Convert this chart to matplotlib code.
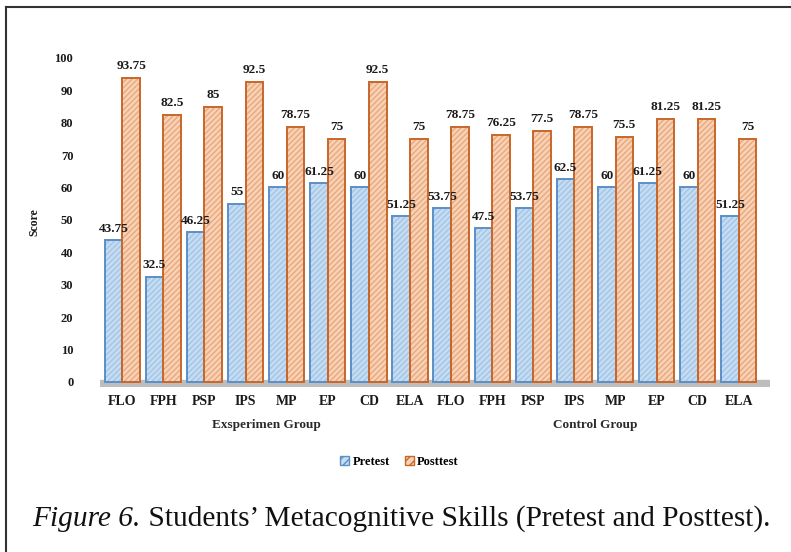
import numpy as np
import matplotlib.pyplot as plt
from matplotlib.patches import Rectangle
from matplotlib.lines import Line2D

# Data
skills = ["FLO", "FPH", "PSP", "IPS", "MP", "EP", "CD", "ELA"]
groups = ["Exsperimen Group", "Control Group"]
exp_pre = [43.75, 32.5, 46.25, 55, 60, 61.25, 60, 51.25]
exp_post = [93.75, 82.5, 85, 92.5, 78.75, 75, 92.5, 75]
ctl_pre = [53.75, 47.5, 53.75, 62.5, 60, 61.25, 60, 51.25]
ctl_post = [78.75, 76.25, 77.5, 78.75, 75.5, 81.25, 81.25, 75]

labels = skills + skills
pretest = exp_pre + ctl_pre
posttest = exp_post + ctl_post

plt.rcParams['font.family'] = ['Liberation Serif', 'DejaVu Serif']

fig = plt.figure(figsize=(7.91, 5.52), dpi=100)
ax = fig.add_axes([0.126, 0.299, 0.847, 0.596])

x = np.arange(len(labels))
w = 0.43
off = 0.215
pre_fill, pre_hatch, pre_edge = "#c5dcf2", "#a3c5e6", "#5b8fc7"
post_fill, post_hatch, post_edge = "#f9d2b5", "#e8a880", "#c8672a"
txt = "#1a1a1a"

# floor of the pseudo 3D chart
ax.axhspan(-1.6, 0.4, color="#bdbdbd", zorder=1)

# fills with hatch, then outlines
ax.bar(x - off, pretest, w, color=pre_fill, edgecolor=pre_hatch,
       hatch="//////", linewidth=0, zorder=2)
ax.bar(x - off, pretest, w, fill=False, edgecolor=pre_edge, linewidth=1.4, zorder=3)
ax.bar(x + off, posttest, w, color=post_fill, edgecolor=post_hatch,
       hatch="//////", linewidth=0, zorder=2)
ax.bar(x + off, posttest, w, fill=False, edgecolor=post_edge, linewidth=1.4, zorder=3)

for xi, v in zip(x, pretest):
    ax.text(xi - off, v + 1.6, f"{v:g}", ha="center", va="bottom",
            fontsize=9.5, fontweight="bold", color=txt, zorder=5)
for xi, v in zip(x, posttest):
    ax.text(xi + off, v + 1.8, f"{v:g}", ha="center", va="bottom",
            fontsize=9.5, fontweight="bold", color=txt, zorder=5)

ax.set_xlim(-0.55, 15.75)
ax.set_ylim(-1.6, 100)
ax.set_yticks(np.arange(0, 101, 10))
ax.set_xticks(x)
ax.set_xticklabels(labels, fontsize=10, fontweight="bold", color=txt)
ax.tick_params(axis="y", length=0, labelsize=9, pad=19, labelcolor=txt)
ax.tick_params(axis="x", length=0, pad=6)
for lab in ax.get_yticklabels():
    lab.set_fontweight("bold")
for s in ax.spines.values():
    s.set_visible(False)

ax.set_ylabel("Score", fontsize=8.5, fontweight="bold", color=txt, labelpad=10)

for gi, g in enumerate(groups):
    ax.text(3.5 + gi * 8, -11.4, g, ha="center", va="top", fontsize=9.5,
            fontweight="bold", color="#2a2a2a")

handles = [
    Rectangle((0, 0), 1, 1, facecolor=pre_fill, edgecolor=pre_edge, hatch="////", linewidth=1),
    Rectangle((0, 0), 1, 1, facecolor=post_fill, edgecolor=post_edge, hatch="////", linewidth=1),
]
fig.legend(handles, ["Pretest", "Posttest"], loc="center", bbox_to_anchor=(0.505, 0.163),
           ncol=2, frameon=False, handlelength=0.7, handleheight=0.7, handletextpad=0.3,
           columnspacing=1.2, prop={"size": 9, "weight": "bold"})

# caption
cap = fig.text(0.041, 0.048, "Figure 6.", fontsize=21.2, style="italic", color="#111111")
fig.canvas.draw()
bb = cap.get_window_extent()
fig.text(bb.x1 / fig.bbox.width, 0.048, " Students\u2019 Metacognitive Skills (Pretest and Posttest).",
         fontsize=21.2, color="#111111")

# border (top and left only)
fig.add_artist(Line2D([0.0075, 1.0], [0.987, 0.987], color="#333333", linewidth=1.5))
fig.add_artist(Line2D([0.0075, 0.0075], [0.0, 0.987], color="#333333", linewidth=1.5))

fig.savefig("out.png", dpi=100)
